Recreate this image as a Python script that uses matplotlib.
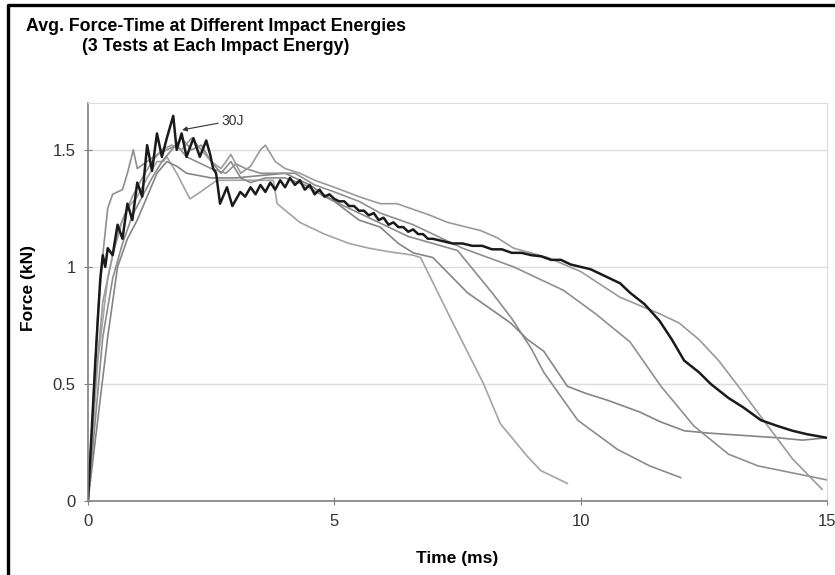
import matplotlib
matplotlib.use("Agg")
from matplotlib import pyplot as plt
from matplotlib.lines import Line2D

plt.rcParams['font.family'] = ['Liberation Sans', 'DejaVu Sans']

# 30J curve (black)
t_a = [0, 0.05, 0.1, 0.15, 0.2, 0.25, 0.3, 0.35, 0.4, 0.5, 0.6, 0.7, 0.8, 0.9, 1.0, 1.1, 1.2, 1.3,
       1.4, 1.5, 1.6, 1.73, 1.8, 1.9, 2.0, 2.14, 2.27, 2.4, 2.48, 2.54, 2.6, 2.68, 2.82, 2.93, 3.09,
       3.19, 3.3, 3.4, 3.5, 3.6, 3.7, 3.8, 3.9, 4.0, 4.1, 4.2, 4.3, 4.4, 4.5, 4.6, 4.7, 4.8, 4.9, 5.0,
       5.1, 5.2, 5.3, 5.4, 5.5, 5.6, 5.7, 5.8, 5.9, 6.0, 6.1, 6.2, 6.3, 6.4, 6.5, 6.6, 6.7, 6.8, 6.9,
       7.0, 7.2, 7.4, 7.6, 7.8, 8.0, 8.2, 8.4, 8.6, 8.8, 9.0, 9.2, 9.4, 9.6, 9.8, 10.0, 10.2, 10.4,
       10.6, 10.8, 11.0, 11.3, 11.6, 11.85, 12.1, 12.4, 12.64, 13.0, 13.3, 13.66, 14.0, 14.3, 14.6, 15.0]
f_a = [0, 0.2, 0.4, 0.6, 0.78, 0.95, 1.05, 1.0, 1.08, 1.05, 1.18, 1.12, 1.27, 1.2, 1.36, 1.3, 1.52, 1.41,
       1.57, 1.47, 1.55, 1.645, 1.5, 1.57, 1.47, 1.55, 1.47, 1.54, 1.48, 1.42, 1.4, 1.27, 1.34, 1.26, 1.32,
       1.30, 1.34, 1.31, 1.35, 1.32, 1.36, 1.33, 1.37, 1.34, 1.38, 1.35, 1.37, 1.33, 1.35, 1.31, 1.33, 1.30,
       1.31, 1.29, 1.28, 1.28, 1.26, 1.26, 1.24, 1.24, 1.22, 1.23, 1.20, 1.21, 1.18, 1.19, 1.17, 1.17, 1.15,
       1.16, 1.14, 1.14, 1.12, 1.12, 1.11, 1.10, 1.10, 1.09, 1.09, 1.075, 1.075, 1.06, 1.06, 1.05, 1.045,
       1.03, 1.03, 1.01, 1.0, 0.99, 0.97, 0.95, 0.93, 0.89, 0.84, 0.77, 0.69, 0.6, 0.55, 0.5, 0.44, 0.4,
       0.345, 0.32, 0.3, 0.285, 0.27]

# gray curves
t_b = [0, 0.15, 0.3, 0.5, 0.7, 0.9, 1.1, 1.3, 1.5, 1.7, 1.9, 2.1, 2.3, 2.5, 2.7, 2.9, 3.1, 3.3, 3.5,
       3.6, 3.8, 4.0, 4.3, 4.6, 5.0, 5.5, 5.93, 6.27, 6.95, 7.3, 7.97, 8.3, 8.64, 9.33, 10.0, 10.8, 11.6,
       12.0, 12.4, 12.8, 13.2, 13.8, 14.3, 14.9]
f_b = [0, 0.5, 0.85, 1.05, 1.2, 1.3, 1.38, 1.45, 1.5, 1.52, 1.5, 1.55, 1.5, 1.45, 1.42, 1.48, 1.4, 1.43,
       1.5, 1.52, 1.45, 1.42, 1.4, 1.37, 1.34, 1.3, 1.27, 1.27, 1.22, 1.19, 1.155, 1.125, 1.08, 1.04, 0.98,
       0.87, 0.8, 0.76, 0.69, 0.6, 0.49, 0.32, 0.18, 0.05]

t_c = [0, 0.1, 0.2, 0.3, 0.4, 0.5, 0.7, 0.8, 0.92, 1.0, 1.2, 1.4, 1.6, 1.8, 2.0, 2.2, 2.5, 2.8, 3.0, 3.2,
       3.5, 3.8, 4.2, 4.6, 5.0, 5.5, 5.93, 6.6, 7.0, 7.6, 8.64, 9.65, 10.3, 11.0, 11.63, 12.3, 13.0, 13.6,
       14.3, 15.0]
f_c = [0, 0.4, 0.8, 1.05, 1.25, 1.31, 1.33, 1.4, 1.5, 1.42, 1.45, 1.48, 1.5, 1.52, 1.47, 1.45, 1.42, 1.4,
       1.44, 1.42, 1.4, 1.4, 1.4, 1.35, 1.32, 1.28, 1.23, 1.18, 1.14, 1.08, 1.0, 0.9, 0.8, 0.68, 0.49, 0.32,
       0.2, 0.15, 0.12, 0.09]

t_d = [0, 0.2, 0.4, 0.6, 0.8, 1.0, 1.2, 1.4, 1.6, 1.8, 2.0, 2.5, 3.0, 3.5, 4.0, 4.5, 5.0, 5.5, 5.93, 6.3,
       6.6, 7.0, 7.7, 8.58, 8.92, 9.25, 9.73, 10.1, 10.55, 11.2, 11.6, 12.1, 12.6, 13.3, 14.0, 14.5, 15.0]
f_d = [0, 0.35, 0.7, 1.0, 1.12, 1.2, 1.3, 1.4, 1.45, 1.43, 1.4, 1.38, 1.38, 1.39, 1.4, 1.35, 1.28, 1.2,
       1.17, 1.1, 1.06, 1.04, 0.89, 0.76, 0.69, 0.64, 0.49, 0.46, 0.43, 0.38, 0.34, 0.30, 0.29, 0.28, 0.27,
       0.26, 0.27]

t_e = [0, 0.2, 0.4, 0.6, 0.8, 1.0, 1.2, 1.4, 1.53, 1.6, 1.8, 2.07, 2.28, 2.62, 3.0, 3.4, 3.76, 3.84, 4.3,
       4.8, 5.3, 5.7, 6.1, 6.6, 6.75, 7.36, 8.03, 8.37, 8.92, 9.19, 9.73]
f_e = [0, 0.6, 0.95, 1.15, 1.25, 1.3, 1.38, 1.45, 1.45, 1.47, 1.4, 1.29, 1.32, 1.37, 1.37, 1.37, 1.37, 1.27,
       1.19, 1.14, 1.1, 1.08, 1.065, 1.05, 1.04, 0.78, 0.5, 0.33, 0.19, 0.13, 0.075]

t_f = [0, 0.15, 0.3, 0.5, 0.7, 0.9, 1.1, 1.3, 1.5, 1.7, 1.9, 2.1, 2.3, 2.5, 2.7, 2.9, 3.1, 3.3, 3.6, 4.0,
       4.4, 4.8, 5.3, 5.9, 6.5, 7.0, 7.5, 8.2, 8.6, 9.0, 9.25, 9.94, 10.75, 11.4, 12.03]
f_f = [0, 0.35, 0.7, 0.95, 1.1, 1.22, 1.3, 1.38, 1.45, 1.5, 1.55, 1.5, 1.52, 1.45, 1.4, 1.45, 1.38, 1.36,
       1.38, 1.38, 1.35, 1.3, 1.25, 1.19, 1.13, 1.1, 1.07, 0.89, 0.78, 0.65, 0.55, 0.345, 0.22, 0.15, 0.10]

x_ticks = [0, 5, 10, 15]
y_ticks = [0, 0.5, 1, 1.5]
y_tick_labels = ['0', '0.5', '1', '1.5']

fig = plt.figure(figsize=(8.35, 5.75), dpi=100)
ax = fig.add_axes([88/835, 74/575, 739/835, 398/575])

ax.plot(t_e, f_e, color='#a4a4a4', lw=1.2)
ax.plot(t_f, f_f, color='#8c8c8c', lw=1.2)
ax.plot(t_d, f_d, color='#858585', lw=1.2)
ax.plot(t_c, f_c, color='#8f8f8f', lw=1.2)
ax.plot(t_b, f_b, color='#9a9a9a', lw=1.2)
ax.plot(t_a, f_a, color='#1a1a1a', lw=1.8)

ax.annotate('30J', xy=(1.91, 1.585), xytext=(2.7, 1.625), fontsize=10, color='#333333',
            va='center', ha='left',
            arrowprops=dict(arrowstyle='-|>', color='#333333', lw=0.8, mutation_scale=7,
                            shrinkA=0, shrinkB=0))

ax.set_xlim(0, 15)
ax.set_ylim(0, 1.7)
ax.set_xticks(x_ticks)
ax.set_yticks(y_ticks)
ax.set_yticklabels(y_tick_labels)
ax.grid(axis='y', color='#dcdcdc', lw=1)
ax.set_axisbelow(True)
for side in ['top', 'right']:
    ax.spines[side].set_color('#dcdcdc')
for side in ['left', 'bottom']:
    ax.spines[side].set_color('#808080')
    ax.spines[side].set_linewidth(1.2)
ax.tick_params(direction='inout', length=6, color='#808080', labelsize=12,
               labelcolor='#333333', pad=6)

fig.text(457/835, 1 - 558/575, 'Time (ms)', ha='center', va='center',
         fontsize=12.5, fontweight='bold')
fig.text(28/835, 1 - 288/575, 'Force (kN)', ha='center', va='center', rotation=90,
         fontsize=12.5, fontweight='bold')
fig.text(216/835, 1 - 18/575, 'Avg. Force-Time at Different Impact Energies\n(3 Tests at Each Impact Energy)',
         ha='center', va='top', multialignment='center', fontsize=12.8, fontweight='bold',
         linespacing=1.25)

# black frame (top and left edges visible)
fig.add_artist(Line2D([8/835, 8/835, 1.0], [0, 1 - 5/575, 1 - 5/575], color='black', lw=2.4,
                      transform=fig.transFigure))

fig.savefig('out.png', dpi=100)
